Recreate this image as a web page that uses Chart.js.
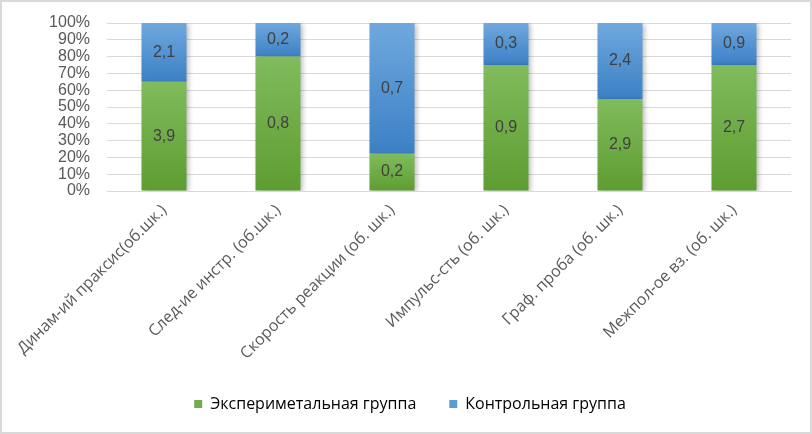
<!DOCTYPE html>
<html><head><meta charset="utf-8">
<script src="https://cdn.jsdelivr.net/npm/chart.js@4/dist/chart.umd.min.js"></script>
<style>html,body{margin:0;padding:0;background:#fff}#w{width:812px;height:434px;position:relative}</style>
</head><body><div id="w"><canvas id="c" width="812" height="434"></canvas></div>
<script>
const categories = ["Динам-ий праксис(об.шк.)", "След-ие инстр. (об.шк.)", "Скорость реакции (об. шк.)", "Импульс-сть (об. шк.)", "Граф. проба (об. шк.)", "Межпол-ое вз. (об. шк.)"];
const experimental = [3.9, 0.8, 0.2, 0.9, 2.9, 2.7];
const control = [2.1, 0.2, 0.7, 0.3, 2.4, 0.9];
const seriesNames = ["Экспериметальная группа", "Контрольная группа"];
const yTicks = [0,10,20,30,40,50,60,70,80,90,100];

const raw = [experimental, control];
const pct = raw.map(arr => arr.map((v,i) => v / (experimental[i] + control[i]) * 100));

const gradStops = [["#80bb5d", "#5e9d31"], ["#6fa8de", "#3c80c5"]];
const solid = ["#70ad47", "#5b9bd5"];
const LBL_FONT = '"Open Sans", "Liberation Sans", sans-serif';

function segGrad(ctx) {
  const chart = ctx.chart;
  const ds = ctx.datasetIndex, i = ctx.dataIndex;
  const ys = chart.scales && chart.scales.y;
  if (!ys || i === undefined || ctx.type !== 'data') return solid[ds];
  let start = 0;
  for (let k = 0; k < ds; k++) start += pct[k][i];
  const end = start + pct[ds][i];
  const y0 = ys.getPixelForValue(end), y1 = ys.getPixelForValue(start);
  if (!isFinite(y0) || !isFinite(y1) || y0 === y1) return solid[ds];
  const g = chart.ctx.createLinearGradient(0, y0, 0, y1);
  g.addColorStop(0, gradStops[ds][0]);
  g.addColorStop(1, gradStops[ds][1]);
  return g;
}

const fmt = v => v.toFixed(1).replace('.', ',');

const labelsPlugin = {
  id: 'segLabels',
  beforeDatasetsDraw(chart) {
    const c = chart.ctx;
    c.save();
    c.shadowColor = 'rgba(0,0,0,0.28)';
    c.shadowBlur = 5;
    c.shadowOffsetX = 2;
    c.shadowOffsetY = 1;
  },
  afterDatasetsDraw(chart) {
    const c = chart.ctx;
    c.restore();
    c.save();
    c.font = '16px "Liberation Sans", Arial, sans-serif';
    c.fillStyle = '#404040';
    c.textAlign = 'center';
    c.textBaseline = 'middle';
    chart.data.datasets.forEach((d, di) => {
      const meta = chart.getDatasetMeta(di);
      meta.data.forEach((el, i) => {
        const yc = (el.y + el.base) / 2;
        c.fillText(fmt(raw[di][i]), el.x, yc);
      });
    });
    c.restore();
  },
  afterDraw(chart) {
    const c = chart.ctx;
    c.save();
    c.strokeStyle = '#d9d9d9';
    c.lineWidth = 2;
    c.strokeRect(1, 1, chart.width - 2, chart.height - 2);
    c.restore();
  }
};

new Chart(document.getElementById('c'), {
  type: 'bar',
  data: {
    labels: categories,
    datasets: seriesNames.map((n, di) => ({
      label: n,
      data: pct[di],
      backgroundColor: segGrad,
      borderWidth: 0,
      categoryPercentage: 45/114,
      barPercentage: 1
    }))
  },
  options: {
    responsive: false,
    animation: false,
    devicePixelRatio: 1,
    layout: { padding: { left: 29, right: 21, top: 23, bottom: 12 } },
    plugins: {
      legend: {
        position: 'bottom',
        labels: {
          boxWidth: 8, boxHeight: 8, padding: 33,
          color: '#595959',
          font: { family: LBL_FONT, size: 16 },
          generateLabels(chart) {
            return seriesNames.map((n, di) => ({
              text: n, fillStyle: solid[di], strokeStyle: solid[di], lineWidth: 0, datasetIndex: di
            }));
          }
        }
      },
      tooltip: { enabled: false }
    },
    scales: {
      x: {
        stacked: true,
        afterFit(scale) { scale.height = 172; },
        grid: { display: false, drawTicks: false },
        border: { display: true, color: '#d9d9d9', width: 1 },
        ticks: {
          color: '#595959', maxRotation: 45, minRotation: 45, padding: 10, autoSkip: false,
          font: { family: LBL_FONT, size: 16 }
        }
      },
      y: {
        stacked: true, min: 0, max: 100,
        afterBuildTicks(scale) { scale.ticks = yTicks.map(v => ({ value: v })); },
        afterFit(scale) { scale.width = 78; scale.paddingTop = 0; scale.paddingBottom = 0; },
        grid: { color: '#d9d9d9', lineWidth: 1, drawTicks: false },
        border: { display: false },
        ticks: {
          color: '#595959', padding: 17, autoSkip: false,
          font: { family: '"Liberation Sans", Arial, sans-serif', size: 16 },
          callback: v => v + '%'
        }
      }
    }
  },
  plugins: [labelsPlugin]
});
</script></body></html>
